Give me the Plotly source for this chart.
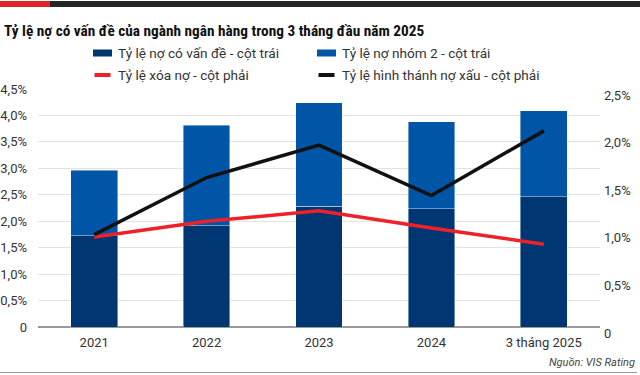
import plotly.graph_objects as go

# ---- data ----
categories = ["2021", "2022", "2023", "2024", "3 tháng 2025"]
ty_le_no_co_van_de = [1.73, 1.91, 2.28, 2.24, 2.46]      # left axis, %
ty_le_no_nhom_2 = [1.23, 1.90, 1.96, 1.64, 1.63]         # left axis, % (stacked)
ty_le_xoa_no = [0.945, 1.11, 1.22, 1.04, 0.87]           # right axis, %
ty_le_hinh_thanh_no_xau = [0.97, 1.57, 1.91, 1.38, 2.06] # right axis, %

left_ticks = [0, 0.5, 1.0, 1.5, 2.0, 2.5, 3.0, 3.5, 4.0, 4.5]
left_ticktext = ["0", "0,5%", "1,0%", "1,5%", "2,0%", "2,5%", "3,0%", "3,5%", "4,0%", "4,5%"]
right_ticks = [0, 0.5, 1.0, 1.5, 2.0, 2.5]
right_ticktext = ["0", "0,5%", "1,0%", "1,5%", "2,0%", "2,5%"]

names = ["Tỷ lệ nợ có vấn đề - cột trái", "Tỷ lệ nợ nhóm 2 - cột trái",
         "Tỷ lệ xóa nợ - cột phải", "Tỷ lệ hình thánh nợ xấu - cột phải"]
colors = ["#003773", "#0055a6", "#ee2129", "#111111"]

W, H = 640, 375
ML, MR, MT, MB = 38, 40, 89, 48
PW, PH = W - ML - MR, H - MT - MB

def px(x):
    return (x - ML) / PW

def py(y):
    return (H - MB - y) / PH

FONT = "Roboto"
TITLE_FONT = "Liberation Sans Narrow, Roboto Condensed, Roboto"

fig = go.Figure()
fig.add_trace(go.Bar(x=categories, y=ty_le_no_co_van_de, name=names[0],
                     marker=dict(color=colors[0], line=dict(width=0.6, color="rgba(255,255,255,0.7)"))))
fig.add_trace(go.Bar(x=categories, y=ty_le_no_nhom_2, name=names[1],
                     marker=dict(color=colors[1], line=dict(width=0.6, color="rgba(255,255,255,0.7)"))))
fig.add_trace(go.Scatter(x=categories, y=ty_le_xoa_no, name=names[2], yaxis="y2",
                         mode="lines", line=dict(color=colors[2], width=3.5)))
fig.add_trace(go.Scatter(x=categories, y=ty_le_hinh_thanh_no_xau, name=names[3], yaxis="y2",
                         mode="lines", line=dict(color=colors[3], width=3.5)))

shapes = [
    dict(type="rect", xref="paper", yref="paper", x0=px(0), x1=px(50), y0=py(7), y1=py(1),
         fillcolor="#e3232b", line=dict(width=0)),
    dict(type="rect", xref="paper", yref="paper", x0=px(50), x1=px(640), y0=py(7), y1=py(1),
         fillcolor="#262626", line=dict(width=0)),
    dict(type="line", xref="paper", yref="paper", x0=px(0), x1=px(637), y0=py(372.5), y1=py(372.5),
         line=dict(color="#9a9a9a", width=1.2)),
]
annotations = [
    dict(text="<b>Tỷ lệ nợ có vấn đề của ngành ngân hàng trong 3 tháng đầu năm 2025</b>",
         xref="paper", yref="paper", x=px(2), y=py(31.5), xanchor="left", yanchor="middle",
         showarrow=False, font=dict(family=TITLE_FONT, size=15.3, color="#111")),
    dict(text="<i>Nguồn: VIS Rating</i>", xref="paper", yref="paper", x=px(637), y=py(362),
         xanchor="right", yanchor="middle", showarrow=False,
         font=dict(family=FONT, size=11, color="#444")),
]

# custom legend (2 x 2)
leg_pos = [(93, 53), (317, 53), (93, 75), (317, 75)]
for i, (lx, ly) in enumerate(leg_pos):
    if i < 2:
        shapes.append(dict(type="rect", xref="paper", yref="paper", x0=px(lx), x1=px(lx + 19),
                           y0=py(ly + 3.5), y1=py(ly - 3.5), fillcolor=colors[i], line=dict(width=0)))
    else:
        shapes.append(dict(type="line", xref="paper", yref="paper", x0=px(lx + 1.5), x1=px(lx + 17.5),
                           y0=py(ly), y1=py(ly), line=dict(color=colors[i], width=4)))
    annotations.append(dict(text=names[i], xref="paper", yref="paper", x=px(lx + 23), y=py(ly),
                            xanchor="left", yanchor="middle", showarrow=False,
                            font=dict(family=FONT, size=13.6, color="#333")))

fig.update_layout(
    width=W, height=H,
    margin=dict(l=ML, r=MR, t=MT, b=MB, pad=0),
    barmode="stack", bargap=0.585,
    plot_bgcolor="white", paper_bgcolor="white",
    showlegend=False,
    font=dict(family=FONT, size=13, color="#333"),
    xaxis=dict(showgrid=False, zeroline=False, showline=False, ticks="", automargin=False,
               tickfont=dict(family=FONT, size=13, color="#333"), ticklabelstandoff=6),
    yaxis=dict(range=[0, 4.5], tickvals=left_ticks, ticktext=left_ticktext, automargin=False,
               showgrid=True, gridcolor="#e2e2e2", gridwidth=1,
               zeroline=True, zerolinecolor="#9a9a9a", zerolinewidth=1.5,
               showline=False, ticks="", ticklabelstandoff=10,
               tickfont=dict(family=FONT, size=13, color="#333")),
    yaxis2=dict(range=[0, 2.5], tickvals=right_ticks, ticktext=right_ticktext, automargin=False,
                overlaying="y", side="right", showgrid=False, zeroline=False,
                showline=False, ticks="", ticklabelstandoff=3, ticklabelshift=6,
                tickfont=dict(family=FONT, size=13, color="#333")),
    shapes=shapes, annotations=annotations,
)

fig.write_html("out.html", config={"displayModeBar": False},
               post_script="document.body.style.margin='0';")
